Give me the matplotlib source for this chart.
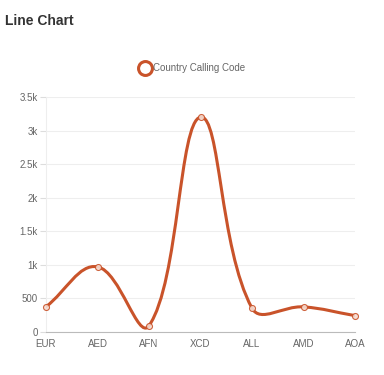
import matplotlib.pyplot as plt
from matplotlib.path import Path
from matplotlib.patches import PathPatch
from matplotlib.lines import Line2D
from matplotlib.ticker import FuncFormatter, MultipleLocator
import numpy as np

plt.rcParams['font.family'] = ['Liberation Sans', 'DejaVu Sans']

# data
categories = ['EUR', 'AED', 'AFN', 'XCD', 'ALL', 'AMD', 'AOA']
values = [376, 971, 93, 3200, 355, 374, 244]
series_name = 'Country Calling Code'

line_color = '#c9532a'

fig = plt.figure(figsize=(3.84, 3.75), dpi=100)
ax = fig.add_axes([46 / 384, 1 - 332 / 375, 309 / 384, 235 / 375])
ax.set_xlim(0, len(categories) - 1)
ax.set_ylim(0, 3500)


def fmt(v, pos):
    if v >= 1000:
        return f'{v / 1000:g}k'
    return f'{v:g}'


ax.yaxis.set_major_locator(MultipleLocator(500))
ax.yaxis.set_major_formatter(FuncFormatter(fmt))
ax.set_xticks(range(len(categories)))
ax.set_xticklabels(categories)
ax.tick_params(axis='y', length=4, width=0.8, color='#dddddd', labelsize=7, labelcolor='#666666', pad=2)
ax.tick_params(axis='x', length=0, labelsize=7, labelcolor='#666666', pad=5)
ax.grid(axis='y', color='#eeeeee', linewidth=0.8)
ax.set_axisbelow(True)
for s in ['top', 'right']:
    ax.spines[s].set_visible(False)
ax.spines['left'].set_color('#eeeeee')
ax.spines['bottom'].set_color('#bbbbbb')
ax.spines['left'].set_linewidth(0.8)
ax.spines['bottom'].set_linewidth(0.8)

# Chart.js style bezier (tension 0.4), control points worked out in pixel space
fig.canvas.draw()
pts = ax.transData.transform(np.column_stack([np.arange(len(values)), values]))
t = 0.4
ctrl = []
n = len(pts)
for i in range(n):
    prev = pts[max(i - 1, 0)]
    cur = pts[i]
    nxt = pts[min(i + 1, n - 1)]
    d01 = np.hypot(*(cur - prev))
    d12 = np.hypot(*(nxt - cur))
    tot = d01 + d12
    s01 = d01 / tot if tot else 0
    s12 = d12 / tot if tot else 0
    ctrl.append((cur - t * s01 * (nxt - prev), cur + t * s12 * (nxt - prev)))

verts = [pts[0]]
codes = [Path.MOVETO]
for i in range(n - 1):
    verts += [ctrl[i][1], ctrl[i + 1][0], pts[i + 1]]
    codes += [Path.CURVE4] * 3
verts = ax.transData.inverted().transform(np.array(verts))
ax.add_patch(PathPatch(Path(verts, codes), facecolor='none', edgecolor=line_color,
                       linewidth=2.2, capstyle='round', joinstyle='round', zorder=3))
ax.plot(range(n), values, linestyle='none', marker='o', markersize=4.3,
        markerfacecolor='#f6ddd3', markeredgecolor=line_color, markeredgewidth=0.8,
        alpha=0.9, clip_on=False, zorder=4)

fig.text(5 / 384, 1 - 21 / 375, 'Line Chart', fontsize=10, fontweight='bold',
         color='#333333', va='center', ha='left')

handle = Line2D([], [], linestyle='none', marker='o', markersize=10,
                markerfacecolor='none', markeredgecolor=line_color, markeredgewidth=2.2)
fig.legend([handle], [series_name], loc='center', bbox_to_anchor=(193 / 384, 1 - 68 / 375),
           frameon=False, fontsize=7, labelcolor='#666666', handlelength=1,
           handletextpad=0.3, borderaxespad=0)

fig.savefig('out.png', dpi=100, facecolor='white')
